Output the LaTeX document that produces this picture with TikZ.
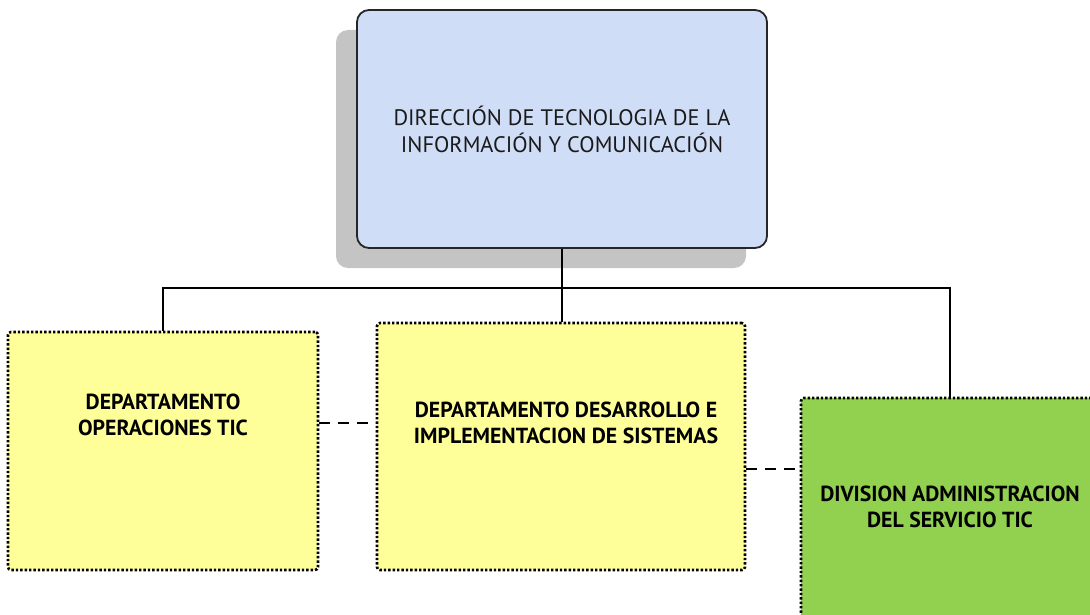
\documentclass[tikz,border=0pt]{standalone}
\usepackage{fontspec}
\setmainfont{PT Sans}
\usetikzlibrary{calc,shadows}
\definecolor{topblue}{HTML}{CFDDF7}
\definecolor{deptyellow}{HTML}{FFFF99}
\definecolor{divgreen}{HTML}{92D050}
\definecolor{shadowgray}{HTML}{C4C4C4}
\definecolor{txtdark}{HTML}{1A1A1A}
\tikzset{
  topbox/.style={draw=black!85, line width=1.8pt, rounded corners=12pt, fill=topblue,
    minimum width=410pt, minimum height=238pt, inner sep=0pt,
    drop shadow={shadow xshift=-21pt, shadow yshift=-20pt, fill=shadowgray, opacity=1}},
  deptbox/.style={draw=black, line width=2.6pt, dash pattern=on 2.4pt off 2pt,
    rounded corners=3pt, inner sep=0pt},
  toptext/.style={align=center, text=txtdark, font=\fontsize{22.4}{27}\selectfont},
  depttext/.style={align=center, text=black, font=\bfseries\fontsize{21.8}{25.5}\selectfont},
  orgline/.style={draw=black, line width=2pt},
  peerline/.style={draw=black, line width=1.6pt, dash pattern=on 11pt off 8pt}
}
\begin{document}
\begin{tikzpicture}[x=1pt,y=-1pt]
\clip (0,0) rectangle (1090,615);
\fill[white] (0,0) rectangle (1090,615);
% boxes
\node[topbox] (top) at (562,129) {};
\node[toptext] (toptxt) at (562,129) {DIRECCIÓN DE TECNOLOGIA DE LA\\INFORMACIÓN Y COMUNICACIÓN};
\node[deptbox, fill=deptyellow, minimum width=310pt, minimum height=238pt] (left) at (163,451) {};
\node[depttext] (lefttxt) at (163,415) {DEPARTAMENTO\\OPERACIONES TIC};
\node[deptbox, fill=deptyellow, minimum width=368pt, minimum height=247pt] (mid) at (561,446.5) {};
\node[depttext] (midtxt) at (566,423) {DEPARTAMENTO DESARROLLO E\\IMPLEMENTACION DE SISTEMAS};
\node[deptbox, fill=divgreen, minimum width=298pt, minimum height=250pt] (green) at (950,523) {};
\node[depttext] (greentxt) at (950,507) {DIVISION ADMINISTRACION\\DEL SERVICIO TIC};
% hierarchy lines
\coordinate (bus) at (562,288);
\draw[orgline] (top.south) -- (bus);
\draw[orgline] (left.north) |- (bus) -| (green.north);
\draw[orgline] (bus) -- (bus |- mid.north);
% dashed peer lines
\coordinate (p1) at ($(left.east)+(0,-28)$);
\draw[peerline] (p1) -- (p1 -| mid.west);
\coordinate (p2) at ($(mid.east)+(0,22.5)$);
\draw[peerline] (p2) -- (p2 -| green.west);
\end{tikzpicture}
\end{document}
